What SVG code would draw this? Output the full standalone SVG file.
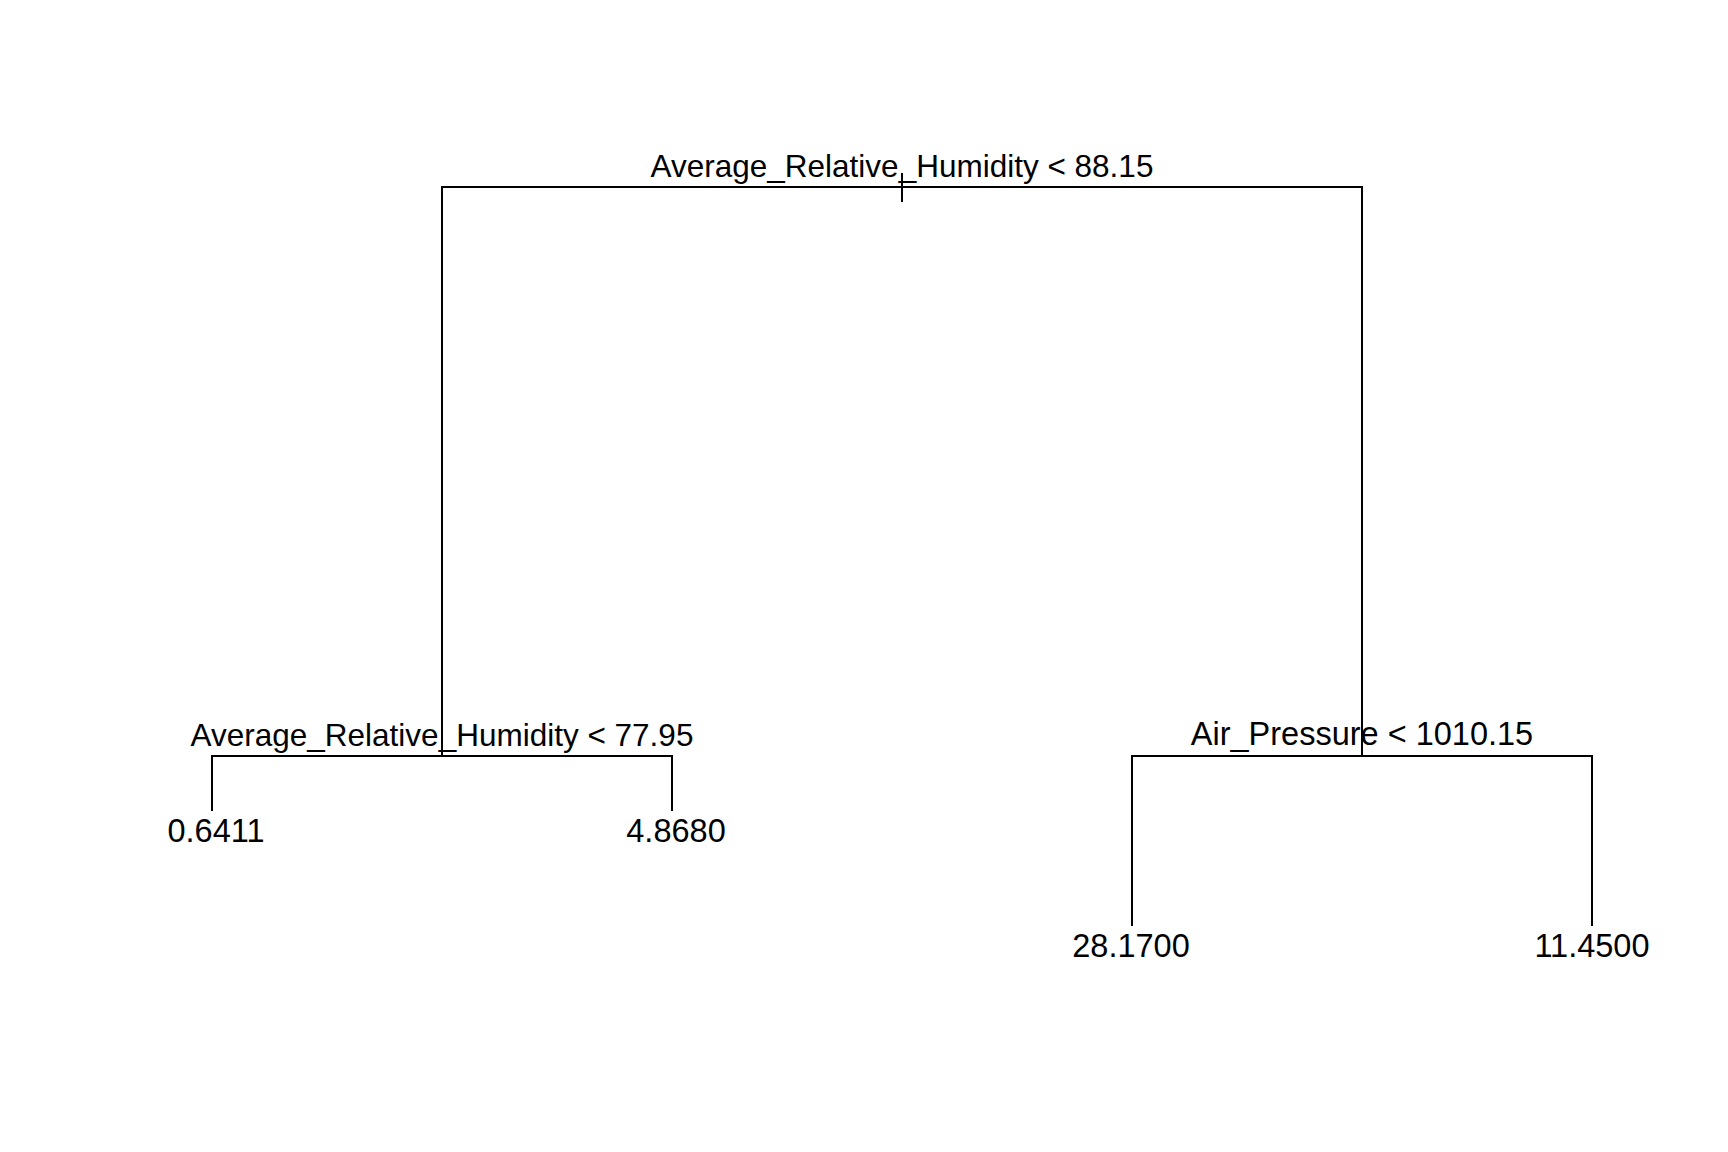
<svg xmlns="http://www.w3.org/2000/svg" width="1728" height="1152" viewBox="0 0 1728 1152">
<style>
.e{fill:none;stroke:#000;stroke-width:2;stroke-linecap:butt}
.t{font-family:"Liberation Sans",Arial,sans-serif;font-size:31.5px;fill:#000;text-anchor:middle}
.l{font-size:32.5px}
</style>
<rect width="1728" height="1152" fill="#fff"/>
<g id="connectors">
<path class="e" d="M902,173V202"/>
<path class="e" d="M442,756V187H1362V756"/>
<path class="e" d="M212,811V756H672V811"/>
<path class="e" d="M1132,926V756H1592V926"/>
</g>
<g id="root"><text class="t" x="902" y="177">Average_Relative_Humidity &lt; 88.15</text></g>
<g id="split-left"><text class="t" x="442" y="746">Average_Relative_Humidity &lt; 77.95</text></g>
<g id="split-right"><text class="t l" x="1362" y="745">Air_Pressure &lt; 1010.15</text></g>
<g id="leaf-1"><text class="t l" x="216" y="842">0.6411</text></g>
<g id="leaf-2"><text class="t l" x="676" y="842">4.8680</text></g>
<g id="leaf-3"><text class="t l" x="1131" y="957">28.1700</text></g>
<g id="leaf-4"><text class="t l" x="1592" y="957">11.4500</text></g>
</svg>
